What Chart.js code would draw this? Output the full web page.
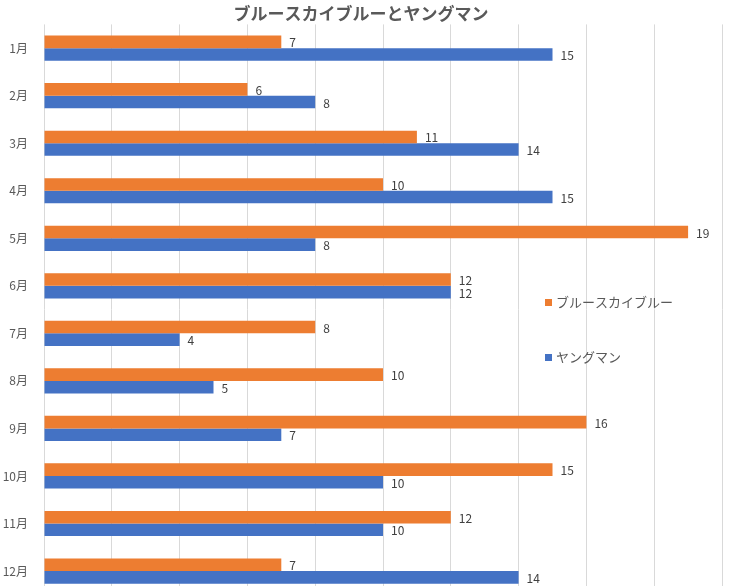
<!DOCTYPE html>
<html>
<head>
<meta charset="utf-8">
<script src="https://cdn.jsdelivr.net/npm/chart.js@4"></script>
<style>
  html, body { margin: 0; padding: 0; background: #fff; overflow: hidden; }
  #wrap { width: 730px; height: 610px; }
</style>
</head>
<body>
<div id="wrap"><canvas id="chart" width="730" height="610"></canvas></div>
<script>
// ---------------- data ----------------
const months = ["1月", "2月", "3月", "4月", "5月", "6月", "7月", "8月", "9月", "10月", "11月", "12月"];
const blueSky = [7, 6, 11, 10, 19, 12, 8, 10, 16, 15, 12, 7];
const youngMan = [15, 8, 14, 15, 8, 12, 4, 5, 7, 10, 10, 14];
const seriesNames = ["ブルースカイブルー", "ヤングマン"];
const chartTitle = "ブルースカイブルーとヤングマン";

const FONT = "'Noto Sans CJK JP', 'Noto Sans', sans-serif";

// value labels at the bar ends
const valueLabels = {
  id: "valueLabels",
  afterDatasetsDraw(chart) {
    const ctx = chart.ctx;
    ctx.save();
    ctx.font = "12px " + FONT;
    ctx.fillStyle = "#404040";
    ctx.textBaseline = "middle";
    chart.data.datasets.forEach((ds, i) => {
      chart.getDatasetMeta(i).data.forEach((bar, j) => {
        ctx.fillText(String(ds.data[j]), bar.x + 8, bar.y + 1);
      });
    });
    ctx.restore();
  }
};

// legend sitting inside the plot on the right
const innerLegend = {
  id: "innerLegend",
  afterDraw(chart) {
    const ctx = chart.ctx;
    const x = 545;
    const rows = [302, 357];
    ctx.save();
    ctx.font = "13px " + FONT;
    ctx.textBaseline = "middle";
    chart.data.datasets.forEach((ds, i) => {
      ctx.fillStyle = ds.backgroundColor;
      ctx.fillRect(x, rows[i] - 3, 7, 7);
      ctx.fillStyle = "#595959";
      ctx.fillText(ds.label, x + 11, rows[i]);
    });
    ctx.restore();
  }
};

new Chart(document.getElementById("chart"), {
  type: "bar",
  data: {
    labels: months,
    datasets: [
      {
        label: seriesNames[0],
        data: blueSky,
        backgroundColor: "#ED7D31",
        barPercentage: 1,
        categoryPercentage: 0.53
      },
      {
        label: seriesNames[1],
        data: youngMan,
        backgroundColor: "#4472C4",
        barPercentage: 1,
        categoryPercentage: 0.53
      }
    ]
  },
  options: {
    indexAxis: "y",
    responsive: false,
    animation: false,
    layout: { padding: { left: 0, right: 8, top: 0, bottom: 0 } },
    plugins: {
      legend: { display: false },
      tooltip: { enabled: false },
      title: {
        display: true,
        text: chartTitle,
        color: "#595959",
        font: { family: FONT, size: 17, weight: "bold" },
        padding: { top: 3, bottom: 1 }
      }
    },
    scales: {
      x: {
        min: 0,
        max: 20,
        ticks: { display: false, stepSize: 2 },
        grid: { color: "#d9d9d9", drawTicks: false },
        border: { display: false },
        afterFit(scale) { scale.height = 0; }
      },
      y: {
        ticks: {
          color: "#595959",
          font: { family: FONT, size: 12 },
          padding: 8
        },
        grid: { display: false },
        border: { display: false },
        afterFit(scale) { scale.width = 44; }
      }
    }
  },
  plugins: [valueLabels, innerLegend]
});
</script>
</body>
</html>
